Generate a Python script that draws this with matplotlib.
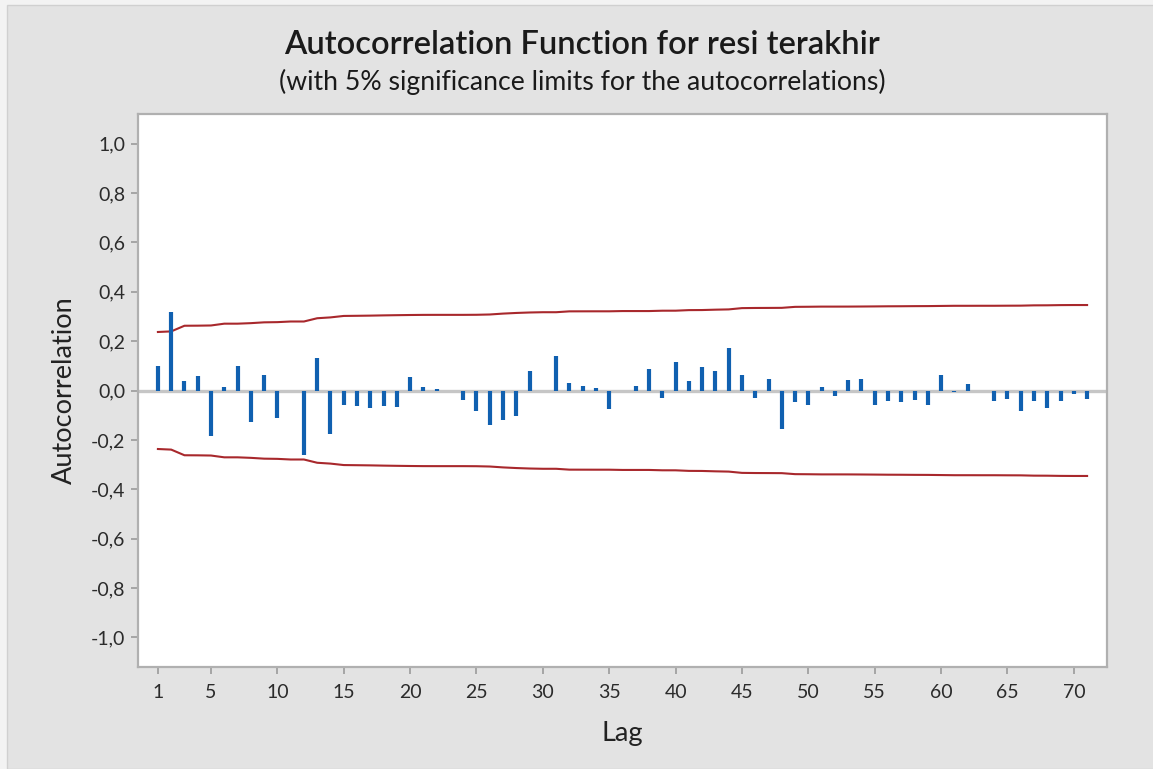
import numpy as np
import matplotlib
matplotlib.use("Agg")
import matplotlib.pyplot as plt
from matplotlib.patches import Rectangle
from matplotlib.ticker import FuncFormatter

plt.rcParams['font.family'] = ['Lato', 'DejaVu Sans']

# ---- data ----
lags = list(range(1, 72))
acf = [0.100, 0.320, 0.040, 0.060, -0.186, 0.014, 0.100, -0.127, 0.063, -0.113,
       0.000, -0.260, 0.133, -0.177, -0.057, -0.063, -0.072, -0.064, -0.065, 0.053,
       0.014, 0.008, 0.000, -0.039, -0.082, -0.141, -0.121, -0.102, 0.078, 0.000,
       0.141, 0.031, 0.020, 0.010, -0.073, 0.000, 0.020, 0.087, -0.030, 0.116,
       0.037, 0.095, 0.080, 0.174, 0.062, -0.030, 0.045, -0.155, -0.048, -0.060,
       0.014, -0.024, 0.044, 0.046, -0.057, -0.041, -0.046, -0.037, -0.057, 0.061,
       -0.005, 0.025, 0.000, -0.044, -0.034, -0.084, -0.041, -0.071, -0.041, -0.016,
       -0.033]
# upper 5% significance limit at each lag (lower limit is the mirror image)
upper = [0.2370, 0.2394, 0.2623, 0.2626, 0.2634, 0.2707, 0.2707, 0.2728, 0.2761, 0.2769,
         0.2795, 0.2795, 0.2927, 0.2961, 0.3020, 0.3026, 0.3033, 0.3043, 0.3051, 0.3058,
         0.3063, 0.3064, 0.3064, 0.3064, 0.3067, 0.3079, 0.3115, 0.3141, 0.3160, 0.3171,
         0.3171, 0.3206, 0.3207, 0.3208, 0.3208, 0.3218, 0.3218, 0.3218, 0.3232, 0.3233,
         0.3256, 0.3259, 0.3274, 0.3285, 0.3337, 0.3343, 0.3345, 0.3348, 0.3388, 0.3392,
         0.3398, 0.3398, 0.3399, 0.3402, 0.3406, 0.3411, 0.3413, 0.3417, 0.3419, 0.3425,
         0.3431, 0.3431, 0.3432, 0.3432, 0.3435, 0.3437, 0.3449, 0.3451, 0.3459, 0.3462,
         0.3462]
lower = [-u for u in upper]

x_ticks = [1, 5, 10, 15, 20, 25, 30, 35, 40, 45, 50, 55, 60, 65, 70]
y_ticks = np.round(np.arange(-1.0, 1.01, 0.2), 1)

title = "Autocorrelation Function for resi terakhir"
subtitle = "(with 5% significance limits for the autocorrelations)"

# ---- figure ----
fig = plt.figure(figsize=(11.53, 7.69), dpi=100, facecolor='#f3f3f3')
fig.patches.append(Rectangle((7 / 1153, 0), 1, 1 - 5 / 769, transform=fig.transFigure,
                             facecolor='#e3e3e3', edgecolor='#d0d0d0', linewidth=1,
                             zorder=-10))

ax = fig.add_axes([138 / 1153, 1 - 667 / 769, (1107 - 138) / 1153, (667 - 114) / 769])
ax.set_facecolor('white')

ax.axhline(0, color='#c6c6c6', lw=2.4, zorder=1)
ax.vlines(lags, 0, acf, color='#1060b0', lw=3.0, zorder=3)
ax.plot(lags, upper, color='#a8282c', lw=1.5, zorder=2)
ax.plot(lags, lower, color='#a8282c', lw=1.5, zorder=2)

ax.set_xlim(-0.5, 72.5)
ax.set_ylim(-1.12, 1.12)
ax.set_xticks(x_ticks)
ax.set_yticks(y_ticks)
ax.yaxis.set_major_formatter(FuncFormatter(lambda v, p: f"{v:.1f}".replace('.', ',').replace('-0,0', '0,0')))

for s in ax.spines.values():
    s.set_color('#b0b0b0')
    s.set_linewidth(1.6)
ax.tick_params(axis='both', colors='#a0a0a0', labelcolor='#2b2b2b', labelsize=14,
               length=5, width=1.3)
ax.tick_params(axis='x', pad=7)
ax.tick_params(axis='y', pad=4)

ax.set_xlabel("Lag", fontsize=19.5, color='#222222', labelpad=15)
ax.set_ylabel("Autocorrelation", fontsize=19.5, color='#222222', labelpad=10)

fig.text(0.505, 1 - 45 / 769, title, ha='center', va='center', fontsize=23.5,
         fontweight='semibold', color='#1a1a1a')
fig.text(0.505, 1 - 82 / 769, subtitle, ha='center', va='center', fontsize=19.2,
         color='#1a1a1a')

fig.savefig('out.png', dpi=100, facecolor=fig.get_facecolor())
